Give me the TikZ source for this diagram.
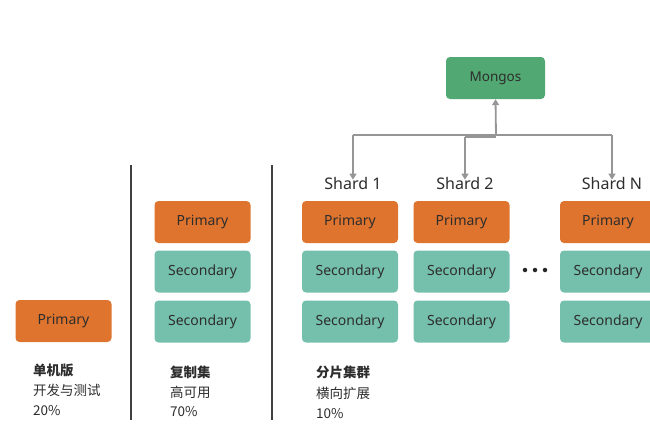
\documentclass[tikz,border=0pt]{standalone}
\usepackage{fontspec}
\setmainfont{Noto Sans}
\newfontfamily\cjk{Noto Sans CJK SC}
\usetikzlibrary{arrows.meta}
\definecolor{orng}{RGB}{222,116,46}
\definecolor{teal2}{RGB}{116,192,172}
\definecolor{grn}{RGB}{82,168,114}
\definecolor{txt}{RGB}{45,45,45}
\definecolor{conn}{RGB}{150,150,150}
\tikzset{
  box/.style={rounded corners=4pt, minimum width=96pt, minimum height=42pt, inner sep=0pt, text=txt, font=\fontsize{14}{16}\selectfont},
  prim/.style={box, fill=orng},
  sec/.style={box, fill=teal2},
  mong/.style={box, fill=grn, minimum width=99pt, font=\fontsize{13.5}{16}\selectfont},
  shardlbl/.style={text=txt, font=\fontsize{16}{18}\selectfont, inner sep=0pt},
  sep/.style={draw=black!75, line width=2pt},
  link/.style={draw=conn, line width=1.8pt},
  arr/.style={link, -{Triangle[length=6pt,width=7pt]}},
  captxt/.style={text=txt, anchor=west, inner sep=0pt, font=\cjk\fontsize{13.5}{15}\selectfont},
  captxtb/.style={captxt, font=\cjk\bfseries\fontsize{13.5}{15}\selectfont},
  dotn/.style={circle, fill=black!85, minimum size=4.5pt, inner sep=0pt}
}
\begin{document}
\begin{tikzpicture}[x=1pt,y=-1pt]
\useasboundingbox (0,0) rectangle (650,431);
\clip (0,0) rectangle (650,431);
% separators
\draw[sep] (131,165) -- (131,420);
\draw[sep] (272,165) -- (272,420);
% single
\node[prim] (p0) at (63.5,321) {Primary};
\node[captxtb] (t0a) at (33,370) {单机版};
\node[captxt] (t0b) at (33,390) {开发与测试};
\node[captxt] (t0c) at (33,411) {20\%};
% replica set
\node[prim] (p1) at (202.5,222) {Primary};
\node[sec] (s1a) at (202.5,271.5) {Secondary};
\node[sec] (s1b) at (202.5,321.5) {Secondary};
\node[captxtb] (t1a) at (170,372) {复制集};
\node[captxt] (t1b) at (170,392) {高可用};
\node[captxt] (t1c) at (170,412) {70\%};
% shards
\node[prim] (p2) at (350,222) {Primary};
\node[sec] (s2a) at (350,271.5) {Secondary};
\node[sec] (s2b) at (350,321.5) {Secondary};
\node[prim] (p3) at (461.5,222) {Primary};
\node[sec] (s3a) at (461.5,271.5) {Secondary};
\node[sec] (s3b) at (461.5,321.5) {Secondary};
\node[prim] (p4) at (608,222) {Primary};
\node[sec] (s4a) at (608,271.5) {Secondary};
\node[sec] (s4b) at (608,321.5) {Secondary};
\node[dotn] (d1) at (525,270) {};
\node[dotn] (d2) at (535,270) {};
\node[dotn] (d3) at (545,270) {};
\node[captxtb] (t2a) at (316,372) {分片集群};
\node[captxt] (t2b) at (316,393) {横向扩展};
\node[captxt] (t2c) at (316,414) {10\%};
% shard labels
\node[shardlbl] (l1) at (353,183) {Shard 1};
\node[shardlbl] (l2) at (465,183) {Shard 2};
\node[shardlbl] (l3) at (612,183) {Shard N};
% mongos
\node[mong] (m) at (495.5,78) {Mongos};
% connectors
\coordinate (j) at (496,135);
\coordinate (jl) at (353,135);
\coordinate (jr) at (612,135);
\coordinate (j2) at (465,137);
\draw[arr] (j) -- (m.south);
\draw[link] (jl) -- (jr);
\draw[link] (j2) -- (j|-j2);
\draw[arr] (jl) -- ([yshift=-3pt]l1.north -| jl);
\draw[arr] (j2) -- ([yshift=-3pt]l2.north -| j2);
\draw[arr] (jr) -- ([yshift=-3pt]l3.north -| jr);
\end{tikzpicture}
\end{document}
